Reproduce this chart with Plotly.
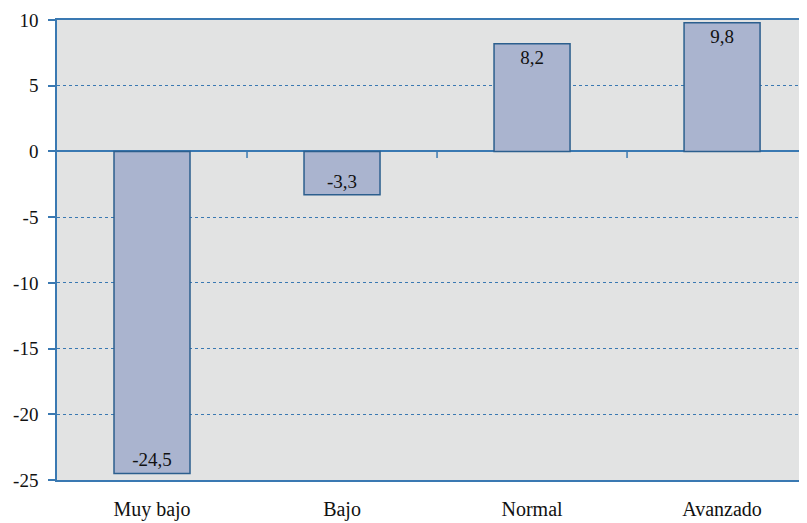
import plotly.graph_objects as go

categories = ["Muy bajo", "Bajo", "Normal", "Avanzado"]
values = [-24.5, -3.3, 8.2, 9.8]
value_labels = ["-24,5", "-3,3", "8,2", "9,8"]
y_ticks = [10, 5, 0, -5, -10, -15, -20, -25]

axis_color = "#3a79b2"
font_family = "Liberation Serif, Times New Roman, DejaVu Serif, serif"

fig = go.Figure()
fig.add_trace(go.Bar(
    x=categories,
    y=values,
    width=0.4,
    marker=dict(color="#aab4cf", line=dict(color="#2c5f8e", width=1.5)),
    text=value_labels,
    textposition="inside",
    insidetextanchor="end",
    textangle=0,
    constraintext="none",
    textfont=dict(family=font_family, size=19, color="#111111"),
    hoverinfo="skip",
))

# ticks on the zero line at category boundaries (axis decoration)
for b in [0.5, 1.5, 2.5]:
    fig.add_shape(type="line", xref="x", yref="y", x0=b, x1=b, y0=0, y1=-0.5,
                  line=dict(color=axis_color, width=1.5), layer="above")

fig.update_layout(
    width=799, height=515,
    margin=dict(l=49, r=0, t=12, b=43),
    paper_bgcolor="white",
    plot_bgcolor="#e2e3e3",
    showlegend=False,
    font=dict(family=font_family, color="#111111"),
)
fig.update_xaxes(
    range=[-0.5, 3.447],
    showline=True, linecolor=axis_color, linewidth=1.5, mirror=True,
    showgrid=False, ticks="",
    ticklabelstandoff=10,
    tickfont=dict(family=font_family, size=20, color="#111111"),
    fixedrange=True,
)
fig.update_yaxes(
    range=[-25, 10],
    tickvals=y_ticks,
    ticktext=[str(v) for v in y_ticks],
    showline=True, linecolor=axis_color, linewidth=1.5,
    ticks="outside", ticklen=7, tickcolor=axis_color, tickwidth=1.5,
    ticklabelstandoff=6,
    showgrid=True, gridcolor=axis_color, griddash="dot", gridwidth=1,
    zeroline=True, zerolinecolor=axis_color, zerolinewidth=1.5,
    tickfont=dict(family=font_family, size=19, color="#111111"),
    fixedrange=True,
)

fig.write_html("out.html")
